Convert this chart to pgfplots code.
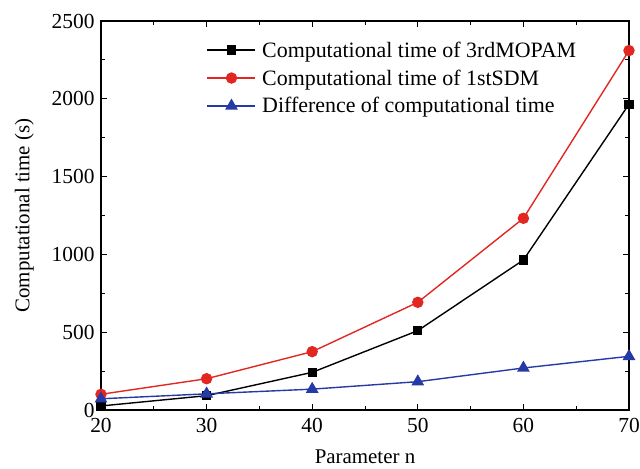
\documentclass[border=0pt]{standalone}
\usepackage{pgfplots}
\pgfplotsset{compat=1.18}
\usepackage{fontspec}
\setmainfont{Liberation Serif}
\definecolor{cred}{RGB}{226,38,34}
\definecolor{cblue}{RGB}{38,58,165}
\newcommand\tkfont{\fontsize{21.5}{24}\selectfont}
\begin{document}
\begin{tikzpicture}[x=1bp,y=1bp]
\begin{axis}[
  name=ax,
  scale only axis,
  width=528bp, height=389bp,
  xmin=20, xmax=70, ymin=0, ymax=2500,
  xtick={20,30,40,50,60,70}, ytick={0,500,1000,1500,2000,2500},
  /pgf/number format/assume math mode=true,
  /pgf/number format/1000 sep={},
  xticklabel={\tkfont\pgfmathprintnumber{\tick}},
  yticklabel={\tkfont\pgfmathprintnumber{\tick}},
  minor x tick num=1, minor y tick num=1,
  tick align=inside, tick pos=both,
  major tick length=6bp, minor tick length=4bp,
  axis line style={line width=1.3pt},
  every tick/.style={line width=1pt, black},
  xticklabel style={yshift=-5bp},
  yticklabel style={xshift=-3bp},
  label style={font=\fontsize{21}{24}\selectfont},
  xlabel={Parameter n},
  ylabel={Computational time (s)},
  xlabel style={yshift=-10bp},
  ylabel style={yshift=11bp},
  legend style={draw=none, fill=none, at={(0.2,0.95)}, anchor=north west,
    font=\fontsize{22}{24}\selectfont, row sep=9bp, inner sep=0bp,
    nodes={inner sep=1bp}},
  legend cell align=left,
  legend image code/.code={
    \draw[#1, mark repeat=2, mark phase=2] plot coordinates {(0bp,0bp) (24bp,0bp) (48bp,0bp)};
    \path (53bp,0bp);},
]
\addplot[black, line width=1.4pt, mark=square*, mark size=4bp] coordinates {
(20,26) (30,92) (40,242) (50,510) (60,964) (70,1965)};
\addlegendentry{Computational time of 3rdMOPAM}
\addplot[cred, line width=1.4pt, mark=*, mark size=5bp] coordinates {
(20,101) (30,201) (40,375) (50,692) (60,1232) (70,2310)};
\addlegendentry{Computational time of 1stSDM}
\addplot[cblue, line width=1.4pt, mark=triangle*, mark size=6bp] coordinates {
(20,72) (30,104) (40,134) (50,182) (60,270) (70,345)};
\addlegendentry{Difference of computational time}
\end{axis}
\pgfresetboundingbox
\path ([xshift=-101bp,yshift=-59bp]ax.south west) rectangle ([xshift=11bp,yshift=21bp]ax.north east);
\end{tikzpicture}
\end{document}
